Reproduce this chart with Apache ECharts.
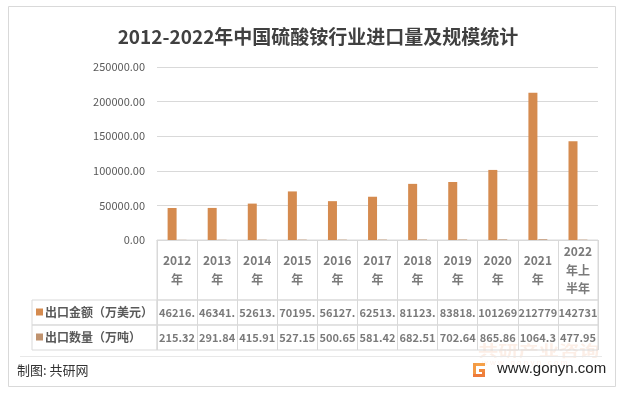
<!DOCTYPE html>
<html><head><meta charset="utf-8">
<script src="https://cdn.jsdelivr.net/npm/echarts@6/dist/echarts.min.js"></script>
<style>html,body{margin:0;padding:0;background:#fff}#c{width:621px;height:395px}</style>
</head><body><div id="c"></div>
<script>
const categories = ['2012\n年','2013\n年','2014\n年','2015\n年','2016\n年','2017\n年','2018\n年','2019\n年','2020\n年','2021\n年','2022\n年上\n半年'];
const amountValues = [46216, 46341, 52613, 70195, 56127, 62513, 81123, 83818, 101269, 212779, 142731];
const amountCells = ['46216.','46341.','52613.','70195.','56127.','62513.','81123.','83818.','101269','212779','142731'];
const quantityValues = [215.32, 291.84, 415.91, 527.15, 500.65, 581.42, 682.51, 702.64, 865.86, 1064.3, 477.95];
const quantityCells = ['215.32','291.84','415.91','527.15','500.65','581.42','682.51','702.64','865.86','1064.3','477.95'];
const seriesNames = ['出口金额（万美元）','出口数量（万吨）'];
const yMin = 0, yMax = 250000, yStep = 50000;

const FONT = '"Noto Sans CJK SC","Noto Sans",sans-serif';
const GRID_LINE = '#d9d9d9';
const TXT = '#595959';
const L = 157, W = 441;

function cellGrid(top, height, left, width){
  return {left:left, top:top, width:width, height:height, show:true, borderColor:GRID_LINE, borderWidth:1, backgroundColor:'rgba(0,0,0,0)', containLabel:false};
}
function catAxis(gi){
  return {type:'category', gridIndex:gi, data:categories, boundaryGap:true,
    axisLabel:{show:false}, axisTick:{show:false}, axisLine:{show:false},
    splitLine:{show:true, interval:0, lineStyle:{color:GRID_LINE, width:1}}};
}
function hiddenY(gi){ return {type:'value', gridIndex:gi, min:0, max:1, show:false}; }
function cellSeries(gi, texts, lh, fs){
  return {type:'scatter', xAxisIndex:gi, yAxisIndex:gi, silent:true, symbolSize:1,
    itemStyle:{color:'rgba(0,0,0,0)'},
    data: categories.map((c,i)=>[c,0.5]),
    label:{show:true, position:'inside', formatter:p=>texts[p.dataIndex],
      color:TXT, fontFamily:FONT, fontWeight:'bold', fontSize:fs, lineHeight:lh}};
}

const chart = echarts.init(document.getElementById('c'), null, {renderer:'canvas'});
chart.setOption({
  backgroundColor:'#fff',
  animation:false,
  title:{text:'2012-2022年中国硫酸铵行业进口量及规模统计', left:313, top:22, textAlign:'center',
    textStyle:{fontFamily:FONT, fontSize:19, fontWeight:'bold', color:'#404040'}},
  legend:{data:seriesNames, orient:'vertical', left:36, top:305, padding:0, itemWidth:7, itemHeight:7, itemGap:11,
    icon:'rect', selectedMode:false,
    textStyle:{fontFamily:FONT, fontSize:12, fontWeight:'bold', color:TXT, lineHeight:14, padding:[0,0,0,-3]}},
  grid:[
    {left:L, top:67, width:W, height:173},
    cellGrid(240, 60, L, W),
    cellGrid(300, 25, L, W),
    cellGrid(325, 25, L, W),
    cellGrid(300, 25, 32, 125),
    cellGrid(325, 25, 32, 125)
  ],
  xAxis:[
    {type:'category', gridIndex:0, data:categories, axisLabel:{show:false}, axisTick:{show:false},
      axisLine:{show:true, lineStyle:{color:GRID_LINE}}},
    catAxis(1), catAxis(2), catAxis(3),
    {type:'value', gridIndex:4, show:false},
    {type:'value', gridIndex:5, show:false}
  ],
  yAxis:[
    {type:'value', gridIndex:0, min:yMin, max:yMax, interval:yStep,
      axisLine:{show:false}, axisTick:{show:false},
      axisLabel:{formatter:v=>v.toFixed(2), color:TXT, fontFamily:FONT, fontSize:11, margin:12},
      splitLine:{lineStyle:{color:GRID_LINE}}},
    hiddenY(1), hiddenY(2), hiddenY(3),
    {type:'value', gridIndex:4, show:false},
    {type:'value', gridIndex:5, show:false}
  ],
  series:[
    {name:seriesNames[0], type:'bar', xAxisIndex:0, yAxisIndex:0, data:amountValues, barWidth:9, barGap:'10%',
      itemStyle:{color:'#D58B4F'}, silent:true},
    {name:seriesNames[1], type:'bar', xAxisIndex:0, yAxisIndex:0, data:quantityValues, barWidth:9, barGap:'10%',
      itemStyle:{color:'#C0936F'}, silent:true},
    cellSeries(1, categories, 18.5, 12),
    cellSeries(2, amountCells, 14, 11),
    cellSeries(3, quantityCells, 14, 11)
  ],
  graphic:[
    {type:'rect', z:-10, shape:{x:8.5, y:6.5, width:607, height:380}, style:{fill:'#fff', stroke:'#d9d9d9', lineWidth:1}, silent:true},
    {type:'text', z:-5, x:478, y:343, scaleX:1.35, style:{text:'共研产业咨询', fill:'rgba(232,120,60,0.13)', font:'bold 15px "Noto Sans CJK SC"'}, silent:true},
    {type:'text', z:-5, x:482, y:359, style:{text:'w w w . g o n y n . c o m', fill:'rgba(232,120,60,0.10)', font:'8px "Liberation Sans"'}, silent:true},
    {type:'line', shape:{x1:20, y1:356.5, x2:602, y2:356.5}, style:{stroke:'#e8e8e8', lineWidth:1}, silent:true},
    {type:'group', left:473, top:363, children:[
      {type:'rect', shape:{x:0, y:0, width:12, height:3}, style:{fill:'#f5a048'}},
      {type:'rect', shape:{x:0, y:0, width:3, height:14}, style:{fill:'#f39a45'}},
      {type:'rect', shape:{x:0, y:11, width:12, height:3}, style:{fill:'#ee7a3a'}},
      {type:'rect', shape:{x:9, y:6, width:3, height:8}, style:{fill:'#ef7f3b'}},
      {type:'rect', shape:{x:6, y:6, width:6, height:3}, style:{fill:'#f08a3f'}}
    ]},
    {type:'text', left:497, top:361, style:{text:'www.gonyn.com', fill:'#222', font:'15px "Liberation Sans", Arial'}, silent:true},
    {type:'text', left:17, top:364, style:{text:'制图: 共研网', fill:'#333', font:'13px "Noto Sans CJK SC"'}, silent:true}
  ]
});
</script></body></html>
